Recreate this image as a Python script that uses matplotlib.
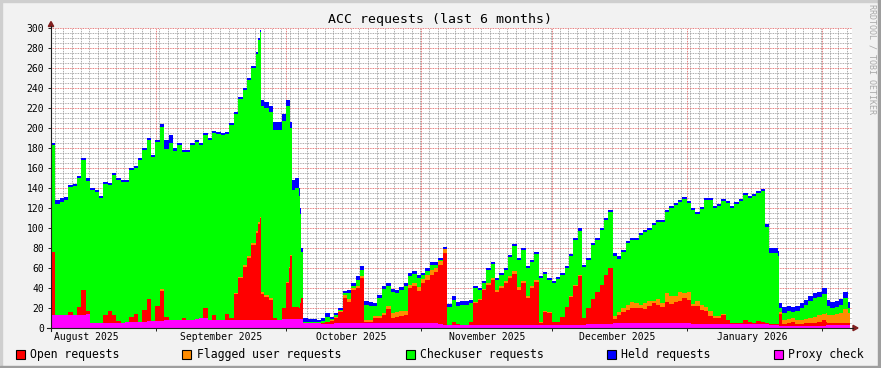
import datetime as dt

import matplotlib
matplotlib.use("Agg")
import matplotlib.pyplot as plt
import matplotlib.dates as mdates
import matplotlib.transforms as mtransforms
from matplotlib.patches import Rectangle, Polygon
from matplotlib.lines import Line2D

# ---- data ----
START = dt.datetime(2025, 8, 7, 22, 0)   # left edge of the graph
SPAN_DAYS = 184.0

days = [
    0, 1, 2, 3, 4, 5, 6, 7, 8, 9,
    10, 11, 12, 13, 14, 15, 16, 17, 18, 19,
    20, 21, 22, 23, 24, 25, 26, 27, 28, 29,
    30, 31, 32, 33, 34, 35, 36, 37, 38, 39,
    40, 41, 42, 43, 44, 45, 46, 47, 47.5, 48, 48.2, 49,
    50, 51, 52, 53, 54, 54.6, 55, 55.3, 56, 57, 57.3, 57.5,
    58, 59, 60, 61, 62, 63, 64, 65, 66, 67,
    68, 69, 70, 71, 72, 73, 74, 75, 76, 77,
    78, 79, 80, 81, 82, 83, 84, 85, 86, 87,
    88, 89, 90, 91, 92, 93, 94, 95, 96, 97,
    98, 99, 100, 101, 102, 103, 104, 105, 106, 107,
    108, 109, 110, 111, 112, 113, 114, 115, 116, 117,
    118, 119, 120, 121, 122, 123, 124, 125, 126, 127,
    128, 129, 130, 131, 132, 133, 134, 135, 136, 137,
    138, 139, 140, 141, 142, 143, 144, 145, 146, 147,
    148, 149, 150, 151, 152, 153, 154, 155, 156, 157,
    158, 159, 160, 161, 162, 163, 164, 165, 166, 167, 167.3,
    168, 169, 170, 171, 172, 173, 174, 175, 176, 177,
    178, 178.3, 179, 180, 181, 182, 183,
]

proxy_check = [
    13, 13, 13, 13, 13, 13, 13, 13, 14, 5,
    5, 5, 5, 5, 5, 5, 5, 6, 6, 6,
    6, 6, 7, 7, 7, 7, 8, 8, 8, 8,
    8, 8, 8, 9, 10, 10, 8, 8, 8, 8,
    8, 8, 8, 8, 8, 8, 8, 8, 8, 8, 8, 8,
    8, 8, 8, 9, 9, 9, 9, 9, 9, 9, 9, 9,
    5, 5, 5, 5, 4, 4, 4, 5, 5, 5,
    5, 5, 5, 5, 5, 5, 5, 5, 5, 5,
    5, 5, 5, 5, 5, 5, 5, 5, 5, 5,
    5, 4, 3, 3, 3, 3, 3, 3, 3, 3,
    3, 3, 3, 3, 3, 3, 3, 3, 3, 3,
    3, 3, 3, 3, 3, 3, 3, 3, 3, 3,
    3, 3, 3, 3, 3, 4, 4, 4, 4, 4,
    4, 5, 5, 5, 5, 5, 5, 5, 5, 5,
    5, 5, 5, 5, 5, 5, 5, 5, 5, 4,
    4, 4, 4, 4, 4, 4, 4, 4, 4, 4,
    4, 4, 4, 4, 4, 4, 4, 3, 3, 3, 2,
    2, 2, 2, 2, 2, 2, 2, 2, 2, 2,
    3, 3, 3, 3, 3, 3, 3,
]

open_requests = [
    63, 0, 0, 0, 3, 0, 8, 25, 3, 0,
    0, 0, 8, 12, 8, 2, 0, 0, 5, 8,
    0, 12, 22, 0, 15, 30, 3, 0, 0, 0,
    2, 0, 0, 0, 0, 10, 0, 5, 0, 0,
    6, 2, 26, 42, 53, 62, 75, 87, 96, 102, 26, 23,
    20, 2, 0, 11, 36, 51, 63, 12, 12, 11, 16, 21,
    0, 0, 0, 0, 1, 2, 3, 5, 11, 25,
    21, 33, 35, 45, 1, 1, 5, 5, 8, 14,
    5, 6, 7, 8, 35, 37, 32, 40, 43, 48,
    51, 59, 72, 0, 3, 1, 0, 0, 3, 22,
    25, 35, 40, 45, 33, 37, 42, 47, 51, 35,
    42, 27, 37, 43, 2, 13, 12, 3, 3, 8,
    18, 28, 39, 49, 7, 16, 25, 32, 39, 49,
    56, 4, 8, 11, 13, 15, 15, 15, 14, 17,
    20, 18, 16, 21, 19, 21, 22, 25, 23, 18,
    18, 14, 13, 8, 6, 6, 9, 4, 1, 1,
    1, 4, 2, 1, 3, 2, 1, 1, 1, 1, 12,
    2, 3, 4, 2, 2, 3, 3, 3, 4, 6,
    3, 2, 2, 2, 2, 2, 2,
]

flagged_requests = [
    0, 0, 0, 0, 0, 0, 0, 0, 0, 0,
    0, 0, 0, 0, 0, 0, 0, 0, 0, 0,
    0, 0, 0, 0, 0, 2, 0, 0, 0, 0,
    0, 0, 0, 0, 0, 0, 0, 0, 0, 0,
    0, 0, 1, 1, 2, 2, 2, 2, 2, 1, 2, 2,
    2, 0, 0, 0, 1, 1, 1, 0, 0, 0, 0, 0,
    0, 0, 0, 0, 0, 0, 1, 1, 1, 3,
    3, 2, 2, 2, 2, 2, 2, 2, 2, 3,
    5, 5, 5, 4, 3, 3, 4, 4, 5, 5,
    4, 4, 4, 0, 0, 0, 0, 0, 0, 1,
    1, 1, 2, 2, 2, 2, 2, 2, 3, 3,
    2, 2, 2, 2, 1, 1, 1, 0, 0, 0,
    0, 1, 1, 1, 0, 0, 0, 0, 0, 0,
    0, 3, 3, 4, 5, 6, 5, 3, 6, 5,
    2, 6, 4, 9, 8, 6, 9, 5, 8, 2,
    5, 5, 4, 5, 2, 2, 1, 0, 0, 0,
    0, 0, 0, 0, 0, 0, 0, 0, 0, 0, 2,
    4, 4, 4, 4, 4, 4, 5, 6, 7, 6,
    9, 8, 8, 9, 10, 14, 10,
]

checkuser_requests = [
    107, 111, 113, 115, 125, 129, 129, 130, 130, 133,
    131, 125, 131, 126, 140, 141, 141, 140, 147, 146,
    162, 160, 159, 164, 164, 162, 168, 177, 169, 175,
    166, 168, 175, 177, 173, 173, 180, 182, 186, 185,
    180, 193, 179, 178, 175, 176, 175, 177, 182, 185, 186, 187,
    186, 188, 190, 187, 176, 161, 127, 117, 119, 112, 89, 46,
    1, 1, 1, 1, 2, 5, 1, 2, 1, 2,
    6, 2, 6, 6, 15, 14, 10, 18, 24, 20,
    21, 19, 21, 25, 9, 9, 9, 4, 4, 5,
    3, 1, 0, 18, 22, 18, 20, 20, 19, 14,
    9, 6, 13, 14, 10, 11, 11, 19, 25, 27,
    31, 28, 24, 26, 44, 37, 32, 39, 43, 42,
    39, 40, 45, 44, 51, 48, 54, 52, 55, 55,
    56, 60, 53, 56, 62, 62, 63, 70, 71, 71,
    76, 77, 81, 81, 88, 91, 90, 94, 89, 94,
    87, 96, 107, 111, 108, 110, 113, 117, 115, 119,
    122, 125, 124, 127, 128, 131, 96, 71, 71, 68, 4,
    7, 8, 6, 9, 12, 14, 17, 19, 18, 20,
    19, 9, 7, 7, 8, 11, 5,
]

held_requests = [
    2, 4, 4, 3, 2, 2, 2, 2, 3, 2,
    2, 2, 2, 2, 2, 2, 2, 2, 2, 2,
    2, 2, 2, 2, 2, 3, 9, 8, 3, 2,
    2, 2, 2, 2, 2, 2, 2, 2, 2, 2,
    2, 2, 2, 2, 2, 2, 2, 2, 2, 2, 6, 6,
    6, 8, 8, 7, 6, 6, 6, 10, 10, 8, 6, 4,
    4, 3, 3, 2, 3, 4, 2, 2, 2, 2,
    3, 3, 4, 4, 4, 4, 3, 3, 3, 3,
    3, 3, 3, 3, 3, 3, 3, 2, 3, 3,
    3, 2, 2, 3, 4, 4, 4, 4, 3, 2,
    2, 2, 2, 2, 2, 2, 2, 2, 2, 2,
    2, 2, 2, 2, 2, 2, 2, 2, 2, 2,
    2, 2, 2, 3, 2, 2, 2, 2, 2, 2,
    2, 3, 3, 2, 2, 2, 2, 2, 2, 2,
    2, 2, 2, 2, 2, 2, 2, 2, 2, 2,
    2, 2, 2, 2, 2, 2, 2, 2, 2, 2,
    2, 2, 2, 2, 2, 2, 3, 5, 5, 5, 5,
    6, 5, 5, 5, 5, 5, 5, 5, 5, 6,
    6, 6, 6, 6, 6, 6, 6,
]

series_names = ["Open requests", "Flagged user requests", "Checkuser requests",
                "Held requests", "Proxy check"]
series_colors = ["#FF0000", "#FF8C00", "#00FF00", "#0000FF", "#FF00FF"]

month_starts = ["2025-08-01", "2025-09-01", "2025-10-01", "2025-11-01",
                "2025-12-01", "2026-01-01", "2026-02-01"]
month_labels = ["August 2025", "September 2025", "October 2025",
                "November 2025", "December 2025", "January 2026"]

# ---- rrdtool-like styling ----
W, H = 881, 368
BACK = "#F2F2F2"
SHADE_A = "#CFCFCF"
SHADE_B = "#9E9E9E"
GRID = (0.56, 0.56, 0.56, 0.30)
MGRID = (0.87, 0.31, 0.31, 0.35)
AXIS = (0.12, 0.12, 0.12)
ARROW = (0.5, 0.12, 0.12)

plt.rcParams["font.family"] = "DejaVu Sans Mono"


def fx(px):
    return px / W


def fy(py):
    return 1 - py / H


fig = plt.figure(figsize=(W / 100, H / 100), dpi=100, facecolor=BACK)
ax = fig.add_axes([fx(51), fy(328), 801 / W, 300 / H])
ax.set_facecolor("white")

x = [mdates.date2num(START + dt.timedelta(days=d)) for d in days]
x_end = mdates.date2num(START + dt.timedelta(days=183.55))
xs = x + [x_end]


def closed(vals):
    return list(vals) + [vals[-1]]


# stack order bottom -> top: proxy, open, flagged, checkuser, held
ax.stackplot(
    xs,
    closed(proxy_check), closed(open_requests), closed(flagged_requests),
    closed(checkuser_requests), closed(held_requests),
    colors=[series_colors[4], series_colors[0], series_colors[1],
            series_colors[2], series_colors[3]],
    step="post", linewidth=0, antialiased=False,
)

# grid
ax.set_yticks(range(0, 301, 20))
ax.set_yticks(range(0, 301, 5), minor=True)
ax.xaxis.set_major_locator(mdates.MonthLocator())
anchor = dt.datetime(2025, 12, 30, 18, 0)
minor_x = [mdates.date2num(anchor + dt.timedelta(days=2 * k)) for k in range(-75, 20)]
ax.set_xticks(minor_x, minor=True)
ax.set_axisbelow(True)
ax.grid(which="minor", color=GRID, linestyle=(0, (1, 1)), linewidth=0.6)
ax.grid(which="major", color=MGRID, linestyle=(0, (1, 1)), linewidth=0.6)

ax.set_xlim(mdates.date2num(START), mdates.date2num(START + dt.timedelta(days=SPAN_DAYS)))
ax.set_ylim(0, 300)

for s in ax.spines.values():
    s.set_visible(False)
ax.tick_params(axis="y", which="major", length=2, width=0.7, color=AXIS,
               labelsize=7, pad=3, direction="out")
ax.tick_params(axis="x", which="major", length=2.5, width=0.7, color=AXIS,
               labelbottom=False, direction="out")
ax.tick_params(which="minor", length=0)

# axis lines with arrows
fig.add_artist(Line2D([fx(47), fx(853)], [fy(328), fy(328)], color=AXIS, lw=0.8))
fig.add_artist(Line2D([fx(51), fx(51)], [fy(331), fy(26)], color=AXIS, lw=0.8))
fig.add_artist(Polygon([(fx(853), fy(325.3)), (fx(853), fy(330.7)), (fx(858), fy(328))],
                       closed=True, color=ARROW, transform=fig.transFigure))
fig.add_artist(Polygon([(fx(48.3), fy(26.5)), (fx(53.7), fy(26.5)), (fx(51), fy(21.5))],
                       closed=True, color=ARROW, transform=fig.transFigure))

# month labels centred in each month
trans = mtransforms.blended_transform_factory(ax.transData, fig.transFigure)
for start, label in zip(month_starts[:-1], month_labels):
    mid = dt.datetime.fromisoformat(start) + dt.timedelta(days=15)
    ax.text(mdates.date2num(mid), fy(337.5), label, transform=trans,
            ha="center", va="center", fontsize=7, clip_on=False)

# title and watermark
fig.text(fx(439.5), fy(19), "ACC requests (last 6 months)", ha="center", va="center",
         fontsize=9.5)
fig.text(fx(872), fy(4), "RRDTOOL / TOBI OETIKER", rotation=270, ha="center", va="top",
         fontsize=6, color="#A8A8A8")

# legend
box_x = [15.5, 182, 405.5, 607, 773.5]
text_x = [30, 197, 420, 621, 788]
for bx, tx, name, col in zip(box_x, text_x, series_names, series_colors):
    fig.add_artist(Rectangle((fx(bx), fy(359)), 9 / W, 9 / H, facecolor=col,
                             edgecolor="black", linewidth=0.8, transform=fig.transFigure))
    fig.text(fx(tx), fy(354.5), name, ha="left", va="center", fontsize=8.3)

# canvas shading
fig.add_artist(Rectangle((0, fy(2)), 1, 2 / H, color=SHADE_A, transform=fig.transFigure))
fig.add_artist(Rectangle((0, 0), 2 / W, 1, color=SHADE_A, transform=fig.transFigure))
fig.add_artist(Rectangle((0, 0), 1, 2 / H, color=SHADE_B, transform=fig.transFigure))
fig.add_artist(Rectangle((fx(878), 0), 3 / W, 1, color=SHADE_B, transform=fig.transFigure))

fig.savefig("out.png", dpi=100, facecolor=BACK)
